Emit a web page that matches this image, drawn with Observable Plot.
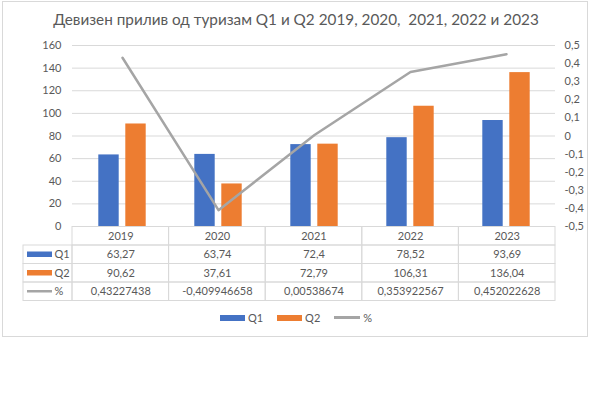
<!DOCTYPE html>
<html><head><meta charset="utf-8">
<script src="https://cdn.jsdelivr.net/npm/d3@7"></script>
<script src="https://cdn.jsdelivr.net/npm/@observablehq/plot@0.6"></script>
<style>
body{margin:0;background:#fff;}
#wrap{position:relative;width:592px;height:395px;font-family:Lato,sans-serif;color:#595959;overflow:hidden;}
#frame{position:absolute;left:2px;top:1px;width:584px;height:334px;border:1px solid #d9d9d9;}
#title{position:absolute;left:0;width:592px;top:10px;text-align:center;font-size:15.3px;color:#595959;white-space:pre;}
#chart{position:absolute;left:0;top:0;}
#table{position:absolute;left:0;top:226px;}
#legend{position:absolute;left:0;width:592px;top:311px;display:flex;justify-content:center;align-items:center;font-size:11px;color:#595959;}
.sw{display:inline-block;width:25px;height:6px;margin-right:3px;}
.ln{display:inline-block;width:26px;height:2.5px;background:#A5A5A5;margin-right:3px;}
.it{display:flex;align-items:center;margin:0 7px;}
svg{overflow:visible;}
</style></head>
<body>
<div id="wrap">
<div id="frame"></div>
<div id="chart"></div>
<div id="table"></div>
<div id="title">Девизен прилив од туризам Q1 и Q2 2019, 2020,  2021, 2022 и 2023</div>
<div id="legend">
 <span class="it"><span class="sw" style="background:#4472C4"></span>Q1</span>
 <span class="it"><span class="sw" style="background:#ED7D31"></span>Q2</span>
 <span class="it"><span class="ln"></span>%</span>
</div>
</div>
<script>
const years = ["2019","2020","2021","2022","2023"];
const q1 = [63.27, 63.74, 72.4, 78.52, 93.69];
const q2 = [90.62, 37.61, 72.79, 106.31, 136.04];
const pct = [0.43227438, -0.409946658, 0.00538674, 0.353922567, 0.452022628];
const leftTicks = [0,20,40,60,80,100,120,140,160];
const rightTicks = [0.5,0.4,0.3,0.2,0.1,0,-0.1,-0.2,-0.3,-0.4,-0.5];
const rightLabels = ["0,5","0,4","0,3","0,2","0,1","0","-0,1","-0,2","-0,3","-0,4","-0,5"];
const seriesNames = ["Q1","Q2","%"];
const seriesColors = ["#4472C4","#ED7D31","#A5A5A5"];

const rows = years.map((y,i)=>({year:y,q1:q1[i],q2:q2[i],pct:pct[i]}));
const toLeft = p => (p + 0.5) * 160;
const rightMap = new Map(rightTicks.map((t,i)=>[Math.round(toLeft(t)*1000), rightLabels[i]]));
const font = {fontFamily:"Lato, sans-serif", fontSize:"11px", color:"#595959", background:"transparent"};

const chart = Plot.plot({
  width:592, height:230, marginTop:45, marginBottom:4, marginLeft:72, marginRight:37,
  style:font,
  x:{domain:years, padding:0, axis:null},
  y:{domain:[0,160], axis:null},
  marks:[
    Plot.gridY(leftTicks.filter(d=>d>0), {stroke:"#d9d9d9", strokeOpacity:1}),
    Plot.axisY({ticks:leftTicks, anchor:"left", tickSize:0, tickPadding:11, label:null, fill:"#595959"}),
    Plot.axisY({ticks:rightTicks.map(toLeft), anchor:"right", tickSize:0, tickPadding:9, label:null, fill:"#595959",
      tickFormat:d=>rightMap.get(Math.round(d*1000))}),
    Plot.barY(rows, {x:"year", y:"q1", fill:seriesColors[0], insetLeft:24.3, insetRight:51.3}),
    Plot.barY(rows, {x:"year", y:"q2", fill:seriesColors[1], insetLeft:51.3, insetRight:24.3}),
    Plot.line(rows, {x:"year", y:d=>toLeft(d.pct), stroke:seriesColors[2], strokeWidth:2.5})
  ]
});
document.getElementById("chart").appendChild(chart);

// data table
const fmt = v => String(v).replace(".", ",");
const labelW = 49/96.6;
const series = [q1, q2, pct];
const cells = [];
years.forEach((y,i)=>cells.push({x1:i, x2:i+1, r:0, text:y}));
series.forEach((arr,s)=>{
  cells.push({x1:-labelW, x2:0, r:s+1, text:""});
  arr.forEach((v,i)=>cells.push({x1:i, x2:i+1, r:s+1, text:fmt(v)}));
});
const labels = seriesNames.map((n,s)=>({name:n, r:s+1, color:seriesColors[s], line:s===2}));

const table = Plot.plot({
  width:592, height:77, marginTop:0.5, marginBottom:2.5, marginLeft:23, marginRight:37,
  style:font,
  x:{domain:[-labelW,5], axis:null},
  y:{domain:[0,4], reverse:true, axis:null},
  marks:[
    Plot.rect(cells, {x1:"x1", x2:"x2", y1:"r", y2:d=>d.r+1, fill:"none", stroke:"#d9d9d9"}),
    Plot.text(cells, {x:d=>(d.x1+d.x2)/2, y:d=>d.r+0.5, text:"text", fill:"#595959"}),
    Plot.rect(labels.filter(d=>!d.line), {x1:-labelW, x2:0, y1:"r", y2:d=>d.r+1, fill:"color", insetLeft:4, insetRight:20, insetTop:6.5, insetBottom:6.5}),
    Plot.rect(labels.filter(d=>d.line), {x1:-labelW, x2:0, y1:"r", y2:d=>d.r+1, fill:"color", insetLeft:4, insetRight:20, insetTop:8, insetBottom:8}),
    Plot.text(labels, {x:-labelW, y:d=>d.r+0.5, text:"name", textAnchor:"start", dx:31, fill:"#595959"})
  ]
});
document.getElementById("table").appendChild(table);
</script>
</body></html>
